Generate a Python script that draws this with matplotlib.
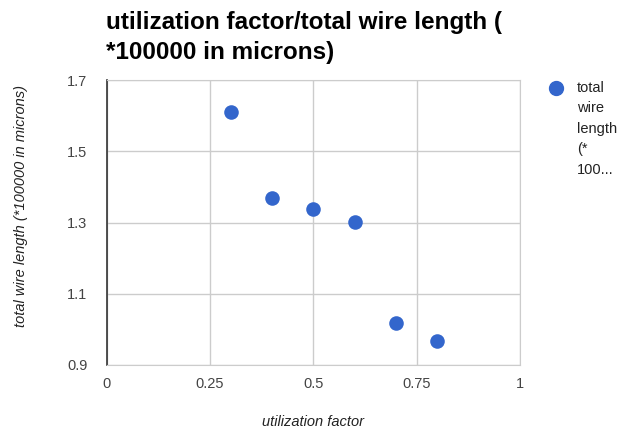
import matplotlib.pyplot as plt

# data
util_factor = [0.3, 0.4, 0.5, 0.6, 0.7, 0.8]
wire_length = [1.610, 1.370, 1.338, 1.302, 1.019, 0.966]
x_ticks = [0, 0.25, 0.5, 0.75, 1]
x_tick_labels = ["0", "0.25", "0.5", "0.75", "1"]
y_ticks = [0.9, 1.1, 1.3, 1.5, 1.7]
y_tick_labels = ["0.9", "1.1", "1.3", "1.5", "1.7"]
legend_lines = ["total", "wire", "length", "(*", "100..."]

plt.rcParams["font.family"] = ["Liberation Sans", "DejaVu Sans"]

fig = plt.figure(figsize=(6.23, 4.30), dpi=100)
ax = fig.add_axes([106.7 / 623, 65 / 430, 413.3 / 623, 285 / 430])

ax.scatter(util_factor, wire_length, s=110, color="#3366cc", zorder=3,
           linewidths=0)

ax.set_xlim(0, 1)
ax.set_ylim(0.9, 1.7)
ax.set_xticks(x_ticks)
ax.set_xticklabels(x_tick_labels)
ax.set_yticks(y_ticks)
ax.set_yticklabels(y_tick_labels)
ax.tick_params(length=0, labelsize=10.5, colors="#444444")
ax.tick_params(axis="x", pad=9)
ax.tick_params(axis="y", pad=14)
ax.grid(True, color="#cccccc", linewidth=1)
ax.set_axisbelow(True)
for side in ("top", "right", "bottom"):
    ax.spines[side].set_color("#cccccc")
ax.spines["left"].set_color("#333333")
ax.spines["left"].set_linewidth(1.2)

ax.set_xlabel("utilization factor", fontsize=10.5, style="italic",
              color="#222222")
ax.xaxis.set_label_coords(0.5, (365 - 422) / 285)
ax.xaxis.label.set_va("center")
ax.set_ylabel("total wire length (*100000 in microns)", fontsize=10.5,
              style="italic", color="#222222")
ax.yaxis.set_label_coords((21 - 106.7) / 413.3, (365 - 206) / 285)
ax.yaxis.label.set_va("center")

fig.text(106 / 623, 1 - 22 / 430, "utilization factor/total wire length (",
         fontsize=17.5, fontweight="bold", va="center", ha="left")
fig.text(106 / 623, 1 - 52 / 430, "*100000 in microns)",
         fontsize=17.5, fontweight="bold", va="center", ha="left")

# legend, wrapped like the original
fig.add_artist(plt.Line2D([556 / 623], [1 - 88 / 430], marker="o",
                          markersize=10, color="#3366cc", linestyle="none",
                          transform=fig.transFigure))
for i, line in enumerate(legend_lines):
    fig.text(577 / 623, 1 - (88 + 20.5 * i) / 430, line, fontsize=10.5,
             color="#222222", va="center", ha="left")

fig.savefig("out.png", dpi=100)
